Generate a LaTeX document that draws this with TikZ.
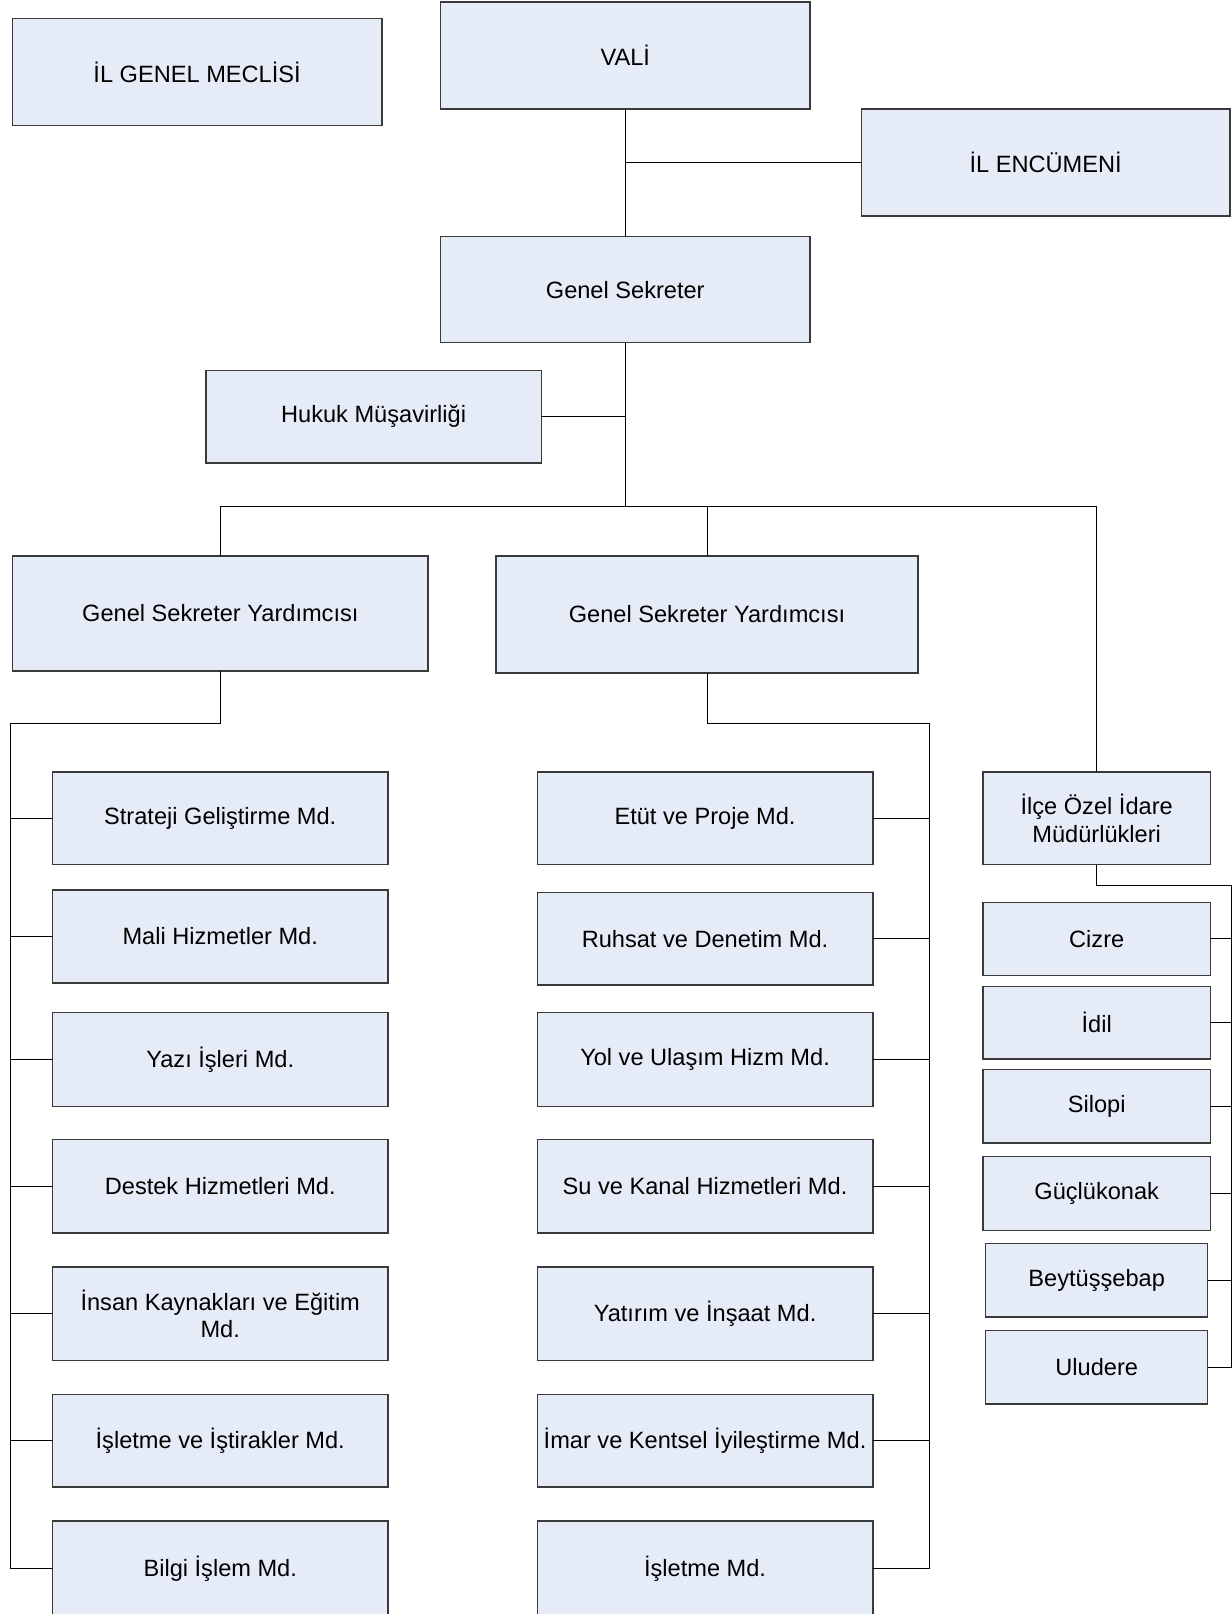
\documentclass[tikz,border=0pt]{standalone}
\usepackage{fontspec}
\setmainfont{Liberation Sans}
\definecolor{boxfill}{HTML}{E6ECF7}
\definecolor{boxline}{HTML}{3A3A3A}
\newcommand\obox[6]{\node[box, minimum width={(#4-#2)*0.5pt}, minimum height={(#5-#3)*0.5pt}] (#1) at ({(#2+#4)/2},{(#3+#5)/2}) {#6};}
\begin{document}
\begin{tikzpicture}[x=0.5pt,y=-0.5pt,
  box/.style={draw=boxline, fill=boxfill, line width=0.75pt, inner sep=0pt, outer sep=0pt, align=center, font=\fontsize{11.8}{13.9}\selectfont},
  conn/.style={draw=black, line width=0.5pt}]
\useasboundingbox (0,0) rectangle (1232,1614);
\clip (0,0) rectangle (1232,1614);
% top level
\obox{igm}{12.4}{18.5}{381.8}{125.6}{İL GENEL MECLİSİ}
\obox{vali}{440.5}{2}{810}{109}{VALİ}
\obox{enc}{861.4}{109}{1230}{216}{İL ENCÜMENİ}
\obox{gs}{440.5}{236.7}{810}{342.7}{Genel Sekreter}
\obox{hukuk}{205.8}{370.5}{541.4}{463}{Hukuk Müşavirliği}
\obox{gsy1}{12.4}{555.8}{428.2}{671}{Genel Sekreter Yardımcısı}
\obox{gsy2}{496}{555.8}{918}{673}{Genel Sekreter Yardımcısı}
\obox{ilce}{983}{772}{1210.4}{864.5}{İlçe Özel İdare\\Müdürlükleri}
% left column
\obox{strat}{52.5}{772}{388}{864.5}{Strateji Geliştirme Md.}
\obox{mali}{52.5}{890}{388}{983}{Mali Hizmetler Md.}
\obox{yazi}{52.5}{1012.7}{388}{1106.4}{Yazı İşleri Md.}
\obox{destek}{52.5}{1139.3}{388}{1233}{Destek Hizmetleri Md.}
\obox{insan}{52.5}{1267}{388}{1360.6}{İnsan Kaynakları ve Eğitim\\Md.}
\obox{istirak}{52.5}{1394.6}{388}{1487.2}{İşletme ve İştirakler Md.}
\obox{bilgi}{52.5}{1521}{388}{1616}{Bilgi İşlem Md.}
% middle column
\obox{etut}{537.3}{772}{872.8}{864.5}{Etüt ve Proje Md.}
\obox{ruhsat}{537.3}{892.3}{872.8}{985}{Ruhsat ve Denetim Md.}
\obox{yol}{537.3}{1012.7}{872.8}{1106.4}{Yol ve Ulaşım Hizm Md.}
\obox{su}{537.3}{1139.3}{872.8}{1233}{Su ve Kanal Hizmetleri Md.}
\obox{yatirim}{537.3}{1267}{872.8}{1360.6}{Yatırım ve İnşaat Md.}
\obox{imar}{537.3}{1394.6}{872.8}{1487.2}{İmar ve Kentsel İyileştirme Md.}
\obox{isl}{537.3}{1521}{872.8}{1616}{İşletme Md.}
% right column
\obox{cizre}{983}{902.4}{1210.4}{975.5}{Cizre}
\obox{idil}{983}{986.3}{1210.4}{1059}{İdil}
\obox{silopi}{983}{1069.3}{1210.4}{1143}{Silopi}
\obox{guclu}{983}{1156.5}{1210.4}{1230.3}{Güçlükonak}
\obox{beytus}{985.7}{1243.3}{1207.7}{1317}{Beytüşşebap}
\obox{ulu}{985.7}{1330.3}{1207.7}{1404}{Uludere}
% connectors
\draw[conn] (vali.south) -- (gs.north);
\draw[conn] (enc.west) -- (vali.south |- enc.west);
\coordinate (busy) at (0,506.4);
\draw[conn] (gs.south) -- (gs.south |- busy);
\draw[conn] (hukuk.east) -- (gs.south |- hukuk.east);
\draw[conn] (gsy1.north) |- (ilce.north |- busy) -- (ilce.north);
\draw[conn] (gsy2.north) -- (gsy2.north |- busy);
\coordinate (lbus) at (10.3,723.5);
\draw[conn] (gsy1.south) |- (lbus) -- (lbus |- bilgi.west) -- (bilgi.west);
\foreach \n in {strat,mali,yazi,destek,insan,istirak}
  \draw[conn] (\n.west) -- (lbus |- \n.west);
\coordinate (mbus) at (929.4,723.5);
\draw[conn] (gsy2.south) |- (mbus) -- (mbus |- isl.east) -- (isl.east);
\foreach \n in {etut,ruhsat,yol,su,yatirim,imar}
  \draw[conn] (\n.east) -- (mbus |- \n.east);
\coordinate (rbus) at (1231,885.5);
\draw[conn] (ilce.south) |- (rbus) -- (rbus |- ulu.east) -- (ulu.east);
\foreach \n in {cizre,idil,silopi,guclu,beytus}
  \draw[conn] (\n.east) -- (rbus |- \n.east);
\end{tikzpicture}
\end{document}
